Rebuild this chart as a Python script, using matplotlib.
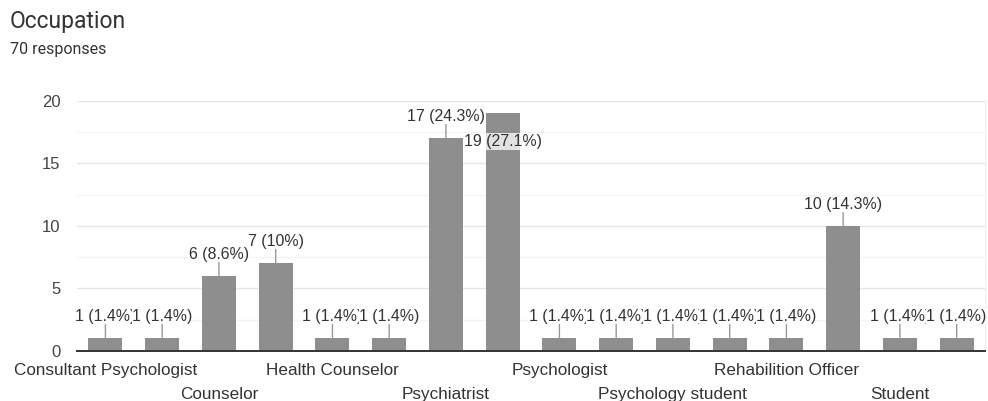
import matplotlib.pyplot as plt
import matplotlib.transforms as mtransforms
import numpy as np

# data
categories = ["Consultant Psychologist", "", "Counselor", "", "Health Counselor", "",
              "Psychiatrist", "", "Psychologist", "", "Psychology student", "",
              "Rehabilition Officer", "", "Student", ""]
counts = [1, 1, 6, 7, 1, 1, 17, 19, 1, 1, 1, 1, 1, 10, 1, 1]
total = 70
y_ticks = [0, 5, 10, 15, 20]

bar_color = "#8e8e8e"
text_color = "#333333"

fig = plt.figure(figsize=(9.88, 4.01), dpi=100)
ax = fig.add_axes([0.078, 0.1247, 0.919, 0.6235])

x = np.arange(len(counts))
ax.bar(x, counts, width=0.6, color=bar_color, zorder=2)

ax.set_xlim(-0.5, len(counts) - 0.5)
ax.set_ylim(0, 20)
ax.set_yticks(y_ticks)
ax.set_yticks(np.arange(2.5, 20, 5), minor=True)
ax.tick_params(axis="y", which="both", length=0, pad=12, labelsize=12, labelcolor="#444444")
ax.set_yticklabels([str(t) for t in y_ticks], fontfamily="Liberation Sans")
ax.grid(axis="y", which="major", color="#e6e6e6", linewidth=1, zorder=0)
ax.grid(axis="y", which="minor", color="#f3f3f3", linewidth=1, zorder=0)

# staggered category labels, only every other one is visible
ax.set_xticks(x)
ax.set_xticklabels(categories, fontsize=12.3, color=text_color, fontfamily="Liberation Sans", va="top")
ax.tick_params(axis="x", length=0, pad=9)
shift = mtransforms.ScaledTranslation(0, -0.235, fig.dpi_scale_trans)
for i, lab in enumerate(ax.get_xticklabels()):
    if i % 4 == 2:
        lab.set_transform(lab.get_transform() + shift)

for s in ["top", "left"]:
    ax.spines[s].set_visible(False)
ax.spines["right"].set_color("#f0f0f0")
ax.spines["bottom"].set_color("#333333")
ax.spines["bottom"].set_linewidth(1.4)
ax.spines["bottom"].set_zorder(3)

# value labels with leader lines, later ones cover earlier ones
for i, v in enumerate(counts):
    txt = "%d (%s%%)" % (v, ("%.1f" % (v * 100 / total)).rstrip("0").rstrip("."))
    if v + 2 > 20:
        ax.annotate(txt, (i, v), xytext=(0, -20), textcoords="offset points",
                    ha="center", va="center", fontsize=11.4, color=text_color,
                    fontfamily="Liberation Sans", zorder=10 + i,
                    bbox=dict(boxstyle="square,pad=0.05", fc="white", ec="none", alpha=0.75))
    else:
        ax.annotate("", (i, v), xytext=(0, 11), textcoords="offset points",
                    arrowprops=dict(arrowstyle="-", color="#999999", lw=1, shrinkA=0, shrinkB=0),
                    zorder=4)
        ax.annotate(txt, (i, v), xytext=(0, 15.5), textcoords="offset points",
                    ha="center", va="center", fontsize=11.4, color=text_color,
                    fontfamily="Liberation Sans", zorder=10 + i,
                    bbox=dict(boxstyle="square,pad=0.0", fc="white", ec="none"))

fig.text(0.0101, 0.93, "Occupation", fontsize=16.5, color="#333333", fontfamily="Roboto", va="baseline")
fig.text(0.0101, 0.866, "70 responses", fontsize=11.5, color="#333333", fontfamily="Roboto", va="baseline")

fig.savefig("out.png", dpi=100)
